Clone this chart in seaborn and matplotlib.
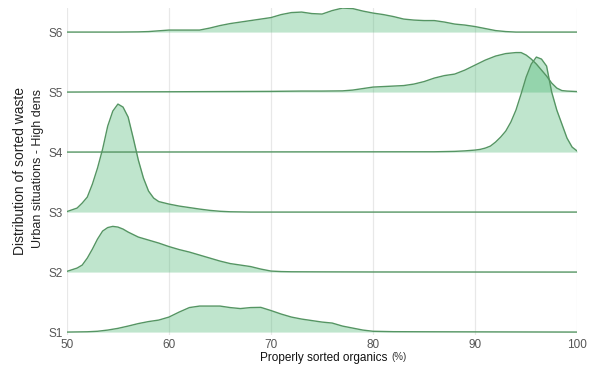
import numpy as np
import pandas as pd
import seaborn as sns
import matplotlib.pyplot as plt

# Ridgeline of sorted-organics distributions per scenario
scenarios = ["S1", "S2", "S3", "S4", "S5", "S6"]
x_ticks = [50, 60, 70, 80, 90, 100]

# Relative density per scenario (shared scale; ridge gap = 60 units)
s1_x = [50, 52, 53, 54, 55, 56, 57, 58, 59, 60, 61, 62, 63, 64, 65, 66, 67, 68, 69, 70,
        71, 72, 73, 74, 75, 76, 77, 78, 79, 80, 82, 85, 90, 100]
s1_y = [0, 0.3, 0.8, 2, 3.7, 6, 8.5, 10.5, 12, 15, 20, 24.5, 26, 26, 26, 24.5, 23.5, 24.5, 24.7, 21.5,
        18, 15, 13, 11.5, 10, 9, 6, 4, 2, 0.8, 0.4, 0.3, 0.2, 0]

s2_x = [50, 51, 51.5, 52, 52.5, 53, 53.5, 54, 54.5, 55, 55.5, 56, 57, 58, 59, 60, 61, 62, 63,
        64, 65, 66, 67, 68, 69, 70, 71, 72, 75, 80, 100]
s2_y = [0.7, 4, 7, 14, 23, 33, 41, 44.5, 45.7, 45, 43, 40, 35, 32, 29, 25.5, 22.5, 20, 17,
        14, 11, 8.5, 7, 5.5, 3, 1, 0.5, 0.3, 0.2, 0.1, 0]

s3_x = [50, 51, 51.5, 52, 52.5, 53, 53.5, 54, 54.5, 55, 55.5, 56, 56.5, 57, 57.5, 58, 58.5,
        59, 60, 61, 62, 63, 64, 65, 66, 68, 100]
s3_y = [0.5, 4, 9, 15, 28, 44, 63, 86, 101, 108, 105, 95, 74, 52, 34, 21, 14,
        10.5, 8, 6, 4.5, 3, 1.7, 0.8, 0.3, 0, 0]

s4_x = [50, 86, 88, 89, 90, 90.5, 91, 91.5, 92, 92.5, 93, 93.5, 94, 94.5, 95, 95.5, 96,
        96.5, 97, 97.5, 98, 98.5, 99, 99.5, 100]
s4_y = [0, 0.3, 0.7, 1.2, 2, 2.7, 4, 6, 10, 15, 21, 30, 42, 58, 75, 88, 95,
        93, 86, 60, 42, 28, 14, 5, 1]

s5_x = [50, 55, 60, 65, 70, 73, 75, 77, 78, 79, 80, 81, 82, 83, 84, 85, 86, 87, 88, 89, 90,
        91, 92, 93, 94, 94.5, 95, 95.5, 96, 96.5, 97, 97.5, 98, 98.5, 99, 100]
s5_y = [0, 0.2, 0.3, 0.5, 0.7, 1, 1, 1.2, 2, 3.5, 5, 5.5, 6, 6.5, 8, 10.5, 14, 16.5, 18, 22, 27,
        32, 36, 38.5, 39.5, 39.5, 37, 33, 28, 22, 16, 9, 4, 1.5, 1, 0.5]

s6_x = [50, 55, 57, 58, 60, 62, 63, 64, 65, 66, 67, 68, 69, 70, 71, 72, 73, 74, 75, 76, 77,
        78, 79, 80, 81, 82, 83, 84, 85, 86, 87, 88, 89, 90, 91, 92, 93, 94, 100]
s6_y = [0, 0, 0.2, 0.5, 2, 2, 2, 4, 6.5, 8.5, 10, 11.5, 13, 14.5, 17.5, 19.5, 20, 18.5, 18, 21.5, 24,
        23.5, 21, 19, 17.5, 15.5, 13, 12, 11.5, 11.5, 10, 8, 7, 5.5, 3.5, 1.5, 0.5, 0, 0]

ridge_gap = 60

series = {"S1": (s1_x, s1_y), "S2": (s2_x, s2_y), "S3": (s3_x, s3_y),
          "S4": (s4_x, s4_y), "S5": (s5_x, s5_y), "S6": (s6_x, s6_y)}

frames = []
for i, name in enumerate(scenarios):
    xs, ys = series[name]
    frames.append(pd.DataFrame({"scenario": name, "organics": xs, "density": ys,
                                "offset": i * ridge_gap}))
df = pd.concat(frames, ignore_index=True)
df["ridge"] = df["offset"] + df["density"]

sns.set_theme(style="white")
plt.rcParams["font.family"] = ["Liberation Sans", "DejaVu Sans"]

fig = plt.figure(figsize=(5.92, 3.67), dpi=100)
ax = fig.add_axes([0.113, 0.087, 0.862, 0.891])

fill_color = "#3fb36a"
line_color = "#559563"

for xv in x_ticks:
    ax.axvline(xv, color="#e8e8e8", lw=0.9, zorder=0)

for i, name in reversed(list(enumerate(scenarios))):
    sub = df[df["scenario"] == name]
    ax.fill_between(sub["organics"], sub["offset"], sub["ridge"],
                    color=fill_color, alpha=0.33, lw=0, zorder=2)
    sns.lineplot(data=sub, x="organics", y="ridge", ax=ax, color=line_color,
                 lw=1.0, estimator=None, sort=False, zorder=3)

ax.set_xlim(50, 100)
ax.set_ylim(-3, 5 * ridge_gap + 24)
ax.set_xticks(x_ticks)
ax.set_xticklabels([str(v) for v in x_ticks], fontsize=8.5, color="#555555")
ax.set_yticks([i * ridge_gap for i in range(len(scenarios))])
ax.set_yticklabels(scenarios, fontsize=8.5, color="#555555")
ax.tick_params(axis="both", length=0, pad=3)
for s in ax.spines.values():
    s.set_visible(False)
ax.set_xlabel("")
ax.set_ylabel("")

fig.text(0.546, 0.025, "Properly sorted organics", fontsize=8.5, color="#111111",
         ha="center", va="center")
fig.text(0.661, 0.028, "(%)", fontsize=7, color="#333333", ha="left", va="center")
fig.text(0.034, 0.534, "Distribution of sorted waste", fontsize=10, color="#222222",
         rotation=90, ha="center", va="center")
fig.text(0.065, 0.54, "Urban situations - High dens", fontsize=9, color="#222222",
         rotation=90, ha="center", va="center")

fig.savefig("out.png", dpi=100)
